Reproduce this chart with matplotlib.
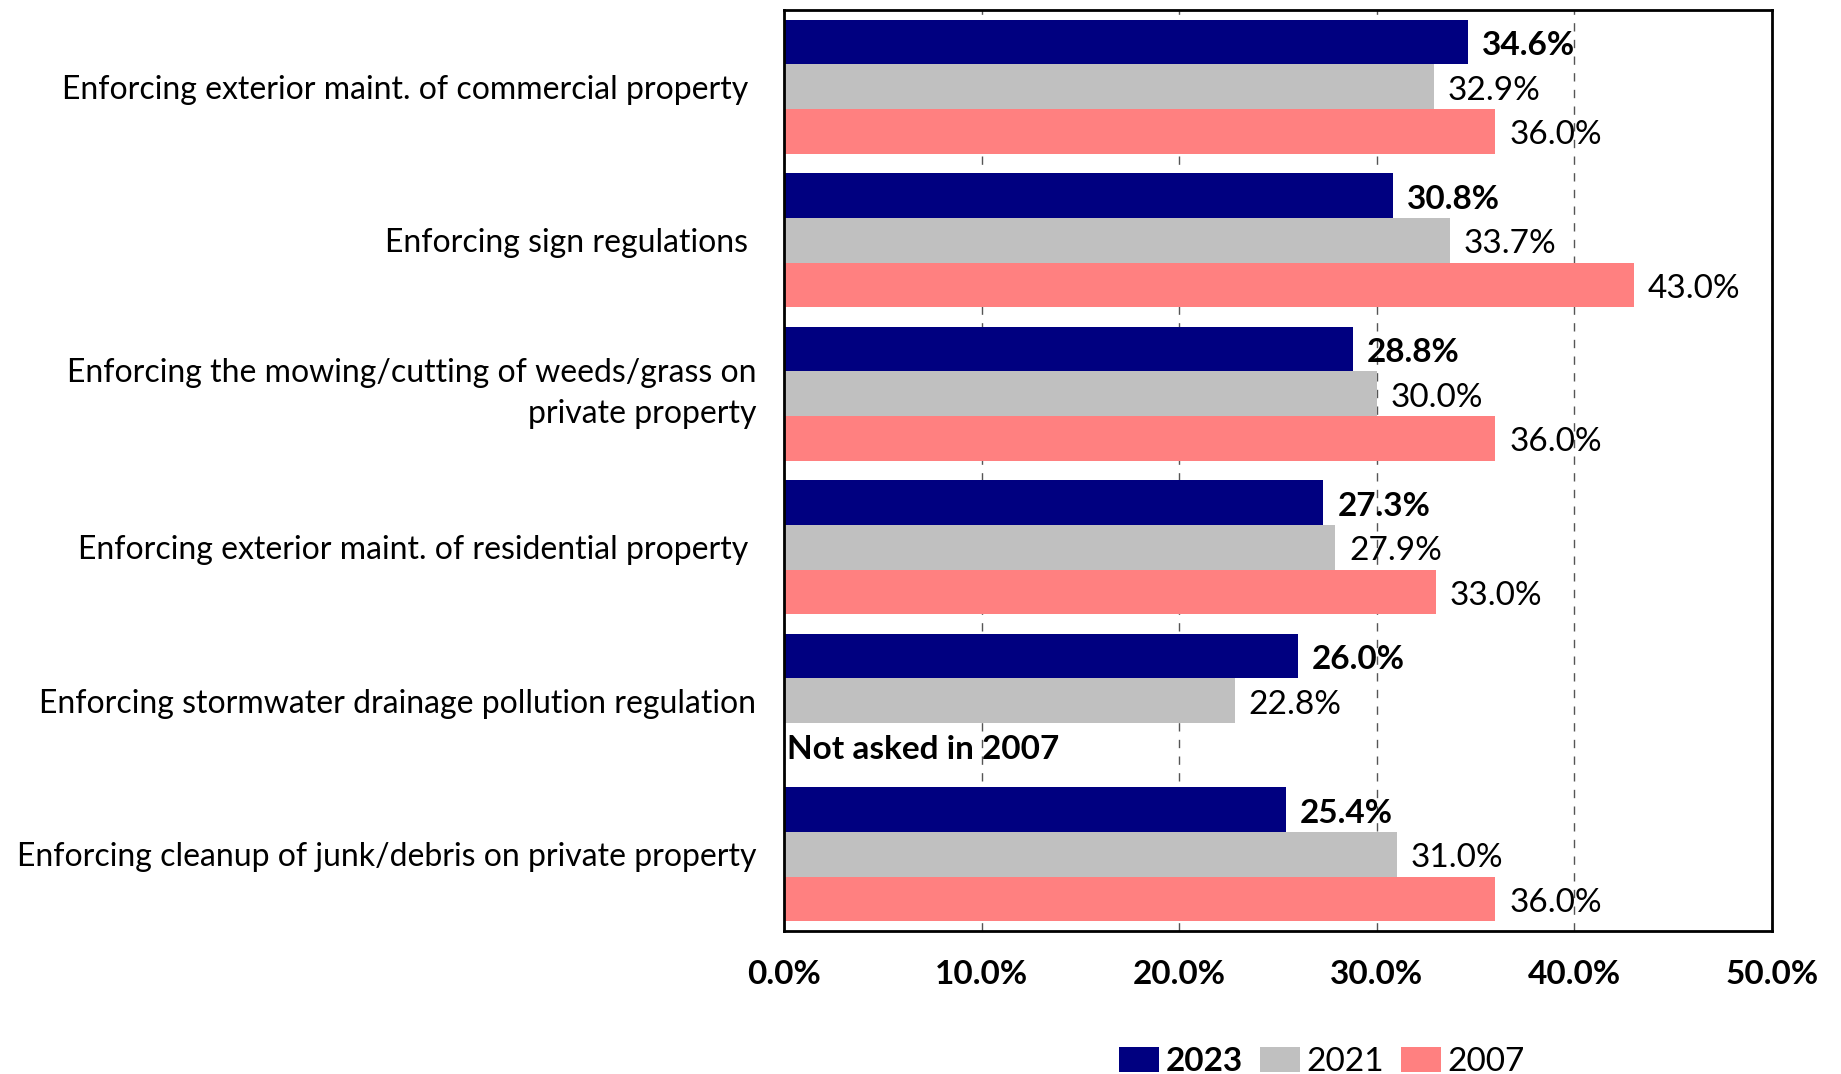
import matplotlib
matplotlib.use("Agg")
import matplotlib.pyplot as plt
import numpy as np
from matplotlib.patches import Patch

plt.rcParams['font.family'] = ['Lato', 'DejaVu Sans']

categories = [
    "Enforcing exterior maint. of commercial property ",
    "Enforcing sign regulations ",
    "Enforcing the mowing/cutting of weeds/grass on\nprivate property",
    "Enforcing exterior maint. of residential property ",
    "Enforcing stormwater drainage pollution regulation",
    "Enforcing cleanup of junk/debris on private property",
]
series_names = ["2023", "2021", "2007"]
values_2023 = [34.6, 30.8, 28.8, 27.3, 26.0, 25.4]
values_2021 = [32.9, 33.7, 30.0, 27.9, 22.8, 31.0]
values_2007 = [36.0, 43.0, 36.0, 33.0, None, 36.0]
missing_note = "Not asked in 2007"
x_ticks = [0, 10, 20, 30, 40, 50]

colors = ["#000080", "#C0C0C0", "#FF8080"]

fig = plt.figure(figsize=(18.41, 10.74), dpi=100)
ax = fig.add_axes([784 / 1841, 1 - 931 / 1074, (1772 - 784) / 1841, (931 - 10) / 1074])

y = np.arange(len(categories))
h = 0.291
all_series = [values_2023, values_2021, values_2007]
fs_cat = 23
fs_val = 24
text_drop = 0.025  # labels sit slightly below the bar centre

for k, (vals, col) in enumerate(zip(all_series, colors)):
    offset = (k - 1) * h
    for i, v in enumerate(vals):
        yy = y[i] + offset
        if v is None:
            ax.text(0.15, yy + text_drop, missing_note, va="center", ha="left",
                    fontsize=fs_val, fontweight="bold", zorder=4)
            continue
        ax.barh(yy, v, height=h, color=col, zorder=2)
        ax.text(v + 0.7, yy + text_drop, f"{v:.1f}%", va="center", ha="left",
                fontsize=fs_val, fontweight="bold" if k == 0 else "normal", zorder=4)

ax.set_xlim(0, 50)
ax.set_ylim(len(categories) - 0.5, -0.5)
ax.set_xticks(x_ticks)
ax.set_xticklabels([f"{t:.1f}%" for t in x_ticks], fontsize=fs_val, fontweight="bold")
ax.set_yticks(y)
ax.set_yticklabels(categories, fontsize=fs_cat)
ax.tick_params(axis="both", length=0)
ax.tick_params(axis="x", pad=21)
ax.tick_params(axis="y", pad=20)
for lab in ax.get_yticklabels():
    lab.set_multialignment("right")
    lab.set_linespacing(1.45)
    if "\n" in lab.get_text():
        lab.set_verticalalignment("center")

ax.xaxis.grid(True, linestyle=(0, (6, 6)), color="#555555", linewidth=1, zorder=1)
ax.set_axisbelow(True)
for s in ax.spines.values():
    s.set_linewidth(2)
    s.set_color("black")

handles = [Patch(facecolor=c, edgecolor="none") for c in colors]
leg = fig.legend(handles, series_names, loc="center", bbox_to_anchor=(1322 / 1841, 1 - 1062 / 1074),
                 ncol=3, frameon=False, fontsize=fs_val, handlelength=1.2, handleheight=0.8,
                 handletextpad=0.2, columnspacing=0.5)
leg.get_texts()[0].set_fontweight("bold")

fig.savefig("out.png", dpi=100)
